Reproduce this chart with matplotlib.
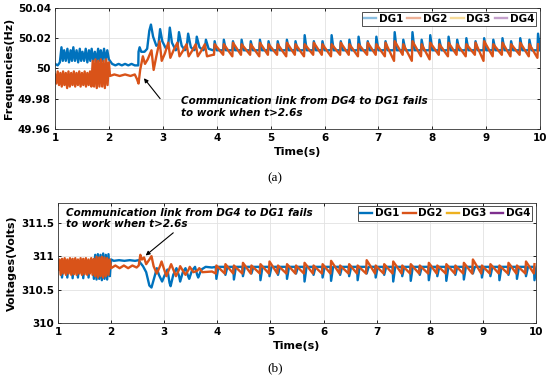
import matplotlib
matplotlib.use("Agg")
import matplotlib.pyplot as plt
from matplotlib.lines import Line2D

plt.rcParams["font.family"] = ["DejaVu Sans"]
plt.rcParams["font.weight"] = "bold"

series_names = ["DG1", "DG2", "DG3", "DG4"]
series_colors = ["#0072BD", "#D95319", "#EDB120", "#7E2F8E"]

# ---- panel (a): frequencies, transient part (t, Hz) ----
fa_dg1_early = [
    (1.00, 50.003), (1.05, 50.002), (1.09, 50.004),
    (1.12, 50.014), (1.145, 50.005), (1.17, 50.012), (1.20, 50.005), (1.23, 50.013),
    (1.26, 50.004), (1.29, 50.012), (1.315, 50.005), (1.34, 50.014), (1.37, 50.005),
    (1.40, 50.012), (1.43, 50.004), (1.46, 50.013), (1.485, 50.005), (1.51, 50.011),
    (1.54, 50.005), (1.57, 50.013), (1.60, 50.004), (1.63, 50.012), (1.655, 50.005),
    (1.68, 50.013), (1.71, 50.005), (1.74, 50.011), (1.77, 50.004), (1.80, 50.013),
    (1.825, 50.005), (1.85, 50.012), (1.88, 50.005), (1.91, 50.013), (1.94, 50.005),
    (1.97, 50.012), (2.00, 50.006),
    (2.06, 50.003), (2.12, 50.002), (2.18, 50.003), (2.24, 50.002), (2.30, 50.003),
    (2.36, 50.002), (2.42, 50.003), (2.48, 50.002), (2.545, 50.002),
    (2.55, 50.011), (2.57, 50.014), (2.60, 50.011), (2.66, 50.011), (2.71, 50.013),
    (2.75, 50.025), (2.78, 50.029), (2.82, 50.021), (2.88, 50.015), (2.92, 50.016),
    (2.95, 50.026), (2.99, 50.018), (3.06, 50.013), (3.10, 50.015), (3.13, 50.027),
    (3.17, 50.017), (3.24, 50.012), (3.27, 50.013), (3.30, 50.024), (3.35, 50.015),
    (3.41, 50.012), (3.44, 50.013), (3.47, 50.023), (3.52, 50.014), (3.58, 50.012),
    (3.61, 50.013), (3.63, 50.021), (3.68, 50.014), (3.75, 50.012), (3.78, 50.013),
    (3.80, 50.019), (3.85, 50.013), (3.93, 50.012),
]
fa_dg2_early = [
    (1.000, 49.996), (1.025, 49.990), (1.050, 49.998), (1.075, 49.989), (1.100, 49.997),
    (1.125, 49.988), (1.150, 49.998), (1.175, 49.989), (1.200, 49.997), (1.225, 49.987),
    (1.250, 49.998), (1.275, 49.988), (1.300, 49.997), (1.325, 49.989), (1.350, 49.998),
    (1.375, 49.988), (1.400, 49.997), (1.425, 49.989), (1.450, 49.998), (1.475, 49.988),
    (1.500, 49.997), (1.525, 49.989), (1.550, 49.998), (1.575, 49.988), (1.600, 49.997),
    (1.625, 49.989), (1.650, 49.998), (1.675, 49.988), (1.700, 50.005), (1.725, 49.988),
    (1.750, 50.006), (1.775, 49.987), (1.800, 50.005), (1.825, 49.988), (1.850, 50.006),
    (1.875, 49.988), (1.900, 50.005), (1.925, 49.987), (1.950, 50.006), (1.975, 49.989),
    (2.000, 50.004), (2.02, 49.995), (2.10, 49.996), (2.20, 49.995), (2.30, 49.996),
    (2.40, 49.995), (2.48, 49.996), (2.52, 49.993), (2.55, 49.990), (2.58, 49.999),
    (2.63, 50.008), (2.67, 50.003), (2.72, 50.006), (2.79, 50.012), (2.83, 49.999),
    (2.88, 50.008), (2.94, 50.018), (2.98, 50.005), (3.04, 50.010), (3.10, 50.017),
    (3.14, 50.007), (3.20, 50.012), (3.27, 50.017), (3.31, 50.008), (3.38, 50.012),
    (3.44, 50.016), (3.48, 50.008), (3.55, 50.012), (3.61, 50.016), (3.65, 50.008),
    (3.72, 50.012), (3.78, 50.016), (3.82, 50.008), (3.93, 50.009),
]

# ---- panel (a): steady part, spike times and spike values ----
ta_spk = [3.95, 4.12, 4.29, 4.45, 4.62, 4.79, 4.95, 5.12, 5.29, 5.45, 5.62, 5.79,
          5.95, 6.12, 6.29, 6.45, 6.62, 6.79, 6.95, 7.12, 7.29, 7.45, 7.62, 7.79,
          7.95, 8.12, 8.29, 8.45, 8.62, 8.79, 8.95, 9.12, 9.29, 9.45, 9.62, 9.79, 9.95]
fa_dg1_base = 50.012
fa_dg1_peak = [50.018, 50.019, 50.018, 50.019, 50.018, 50.019, 50.018, 50.018, 50.019,
               50.018, 50.022, 50.018, 50.018, 50.022, 50.018, 50.019, 50.021, 50.018,
               50.021, 50.018, 50.024, 50.019, 50.024, 50.019, 50.022, 50.019, 50.021,
               50.019, 50.020, 50.018, 50.020, 50.019, 50.020, 50.018, 50.020, 50.019,
               50.023]
fa_dg2_trough = [50.009, 50.009, 50.008, 50.009, 50.009, 50.008, 50.009, 50.009, 50.008,
                 50.009, 50.008, 50.009, 50.009, 50.008, 50.009, 50.009, 50.008, 50.009,
                 50.009, 50.008, 50.005, 50.009, 50.005, 50.008, 50.006, 50.009, 50.008,
                 50.009, 50.008, 50.009, 50.005, 50.008, 50.009, 50.008, 50.009, 50.008,
                 50.007]
fa_dg2_peak = [50.016, 50.016, 50.017, 50.016, 50.016, 50.017, 50.016, 50.016, 50.017,
               50.016, 50.016, 50.017, 50.016, 50.016, 50.017, 50.016, 50.016, 50.017,
               50.016, 50.017, 50.018, 50.016, 50.018, 50.016, 50.017, 50.016, 50.017,
               50.016, 50.016, 50.017, 50.018, 50.016, 50.017, 50.016, 50.017, 50.016,
               50.016]

# ---- panel (b): voltages, transient part (t, V) ----
vb_dg1_early = [
    (1.000, 310.93), (1.025, 310.80), (1.050, 310.92), (1.075, 310.68), (1.100, 310.90),
    (1.125, 310.78), (1.150, 310.93), (1.175, 310.68), (1.200, 310.90), (1.225, 310.79),
    (1.250, 310.94), (1.275, 310.67), (1.300, 310.91), (1.325, 310.78), (1.350, 310.93),
    (1.375, 310.68), (1.400, 310.90), (1.425, 310.78), (1.450, 310.94), (1.475, 310.67),
    (1.500, 310.91), (1.525, 310.79), (1.550, 310.93), (1.575, 310.68), (1.600, 310.90),
    (1.625, 310.78), (1.650, 310.94), (1.675, 310.66), (1.700, 311.02), (1.725, 310.65),
    (1.750, 311.03), (1.775, 310.66), (1.800, 311.02), (1.825, 310.64), (1.850, 311.04),
    (1.875, 310.66), (1.900, 311.02), (1.925, 310.65), (1.950, 311.03), (1.975, 310.70),
    (2.000, 310.95), (2.05, 310.93), (2.15, 310.94), (2.25, 310.93), (2.35, 310.94),
    (2.45, 310.93), (2.52, 310.94), (2.55, 310.90), (2.60, 310.85), (2.66, 310.76),
    (2.72, 310.56), (2.76, 310.53), (2.82, 310.70), (2.86, 310.82), (2.90, 310.72),
    (2.96, 310.62), (3.00, 310.70), (3.06, 310.80), (3.10, 310.60), (3.12, 310.55),
    (3.17, 310.72), (3.23, 310.82), (3.28, 310.70), (3.30, 310.62), (3.35, 310.76),
    (3.40, 310.82), (3.45, 310.70), (3.47, 310.66), (3.52, 310.78), (3.58, 310.84),
    (3.62, 310.72), (3.64, 310.68), (3.70, 310.80), (3.78, 310.84), (3.90, 310.83),
]
vb_dg2_early = [
    (1.000, 310.80), (1.025, 310.95), (1.050, 310.72), (1.075, 310.96), (1.100, 310.74),
    (1.125, 310.97), (1.150, 310.72), (1.175, 310.95), (1.200, 310.74), (1.225, 310.97),
    (1.250, 310.72), (1.275, 310.96), (1.300, 310.73), (1.325, 310.97), (1.350, 310.72),
    (1.375, 310.95), (1.400, 310.74), (1.425, 310.97), (1.450, 310.72), (1.475, 310.96),
    (1.500, 310.73), (1.525, 310.97), (1.550, 310.72), (1.575, 310.95), (1.600, 310.74),
    (1.625, 310.97), (1.650, 310.72), (1.675, 310.96), (1.700, 310.70), (1.725, 310.99),
    (1.750, 310.68), (1.775, 310.98), (1.800, 310.70), (1.825, 310.99), (1.850, 310.68),
    (1.875, 310.98), (1.900, 310.70), (1.925, 310.97), (1.950, 310.72), (1.975, 310.95),
    (2.00, 310.82), (2.08, 310.86), (2.16, 310.82), (2.24, 310.86), (2.32, 310.82),
    (2.40, 310.86), (2.48, 310.83), (2.52, 310.86), (2.55, 311.02), (2.58, 310.95),
    (2.62, 310.98), (2.66, 310.88), (2.72, 310.95), (2.76, 311.00), (2.80, 310.85),
    (2.86, 310.74), (2.92, 310.85), (2.95, 310.92), (3.00, 310.80), (3.04, 310.70),
    (3.10, 310.82), (3.13, 310.88), (3.18, 310.78), (3.22, 310.70), (3.28, 310.80),
    (3.30, 310.85), (3.36, 310.77), (3.40, 310.72), (3.46, 310.80), (3.48, 310.84),
    (3.55, 310.76), (3.62, 310.78), (3.66, 310.82), (3.72, 310.76), (3.90, 310.77),
]

# ---- panel (b): steady part ----
tb_spk = [3.97, 4.14, 4.30, 4.47, 4.63, 4.80, 4.97, 5.13, 5.30, 5.47, 5.63, 5.80,
          5.97, 6.13, 6.30, 6.47, 6.63, 6.80, 6.97, 7.13, 7.30, 7.47, 7.63, 7.80,
          7.97, 8.13, 8.30, 8.47, 8.63, 8.80, 8.97, 9.13, 9.30, 9.47, 9.63, 9.80, 9.96]
vb_dg1_base = 310.84
vb_dg1_dip = [310.66, 310.72, 310.65, 310.70, 310.74, 310.64, 310.70, 310.72, 310.66,
              310.74, 310.62, 310.72, 310.68, 310.63, 310.72, 310.70, 310.64, 310.74,
              310.68, 310.72, 310.62, 310.70, 310.63, 310.72, 310.64, 310.70, 310.63,
              310.72, 310.65, 310.74, 310.68, 310.70, 310.64, 310.72, 310.66, 310.70,
              310.64]
vb_dg2_trough = 310.74
vb_dg2_peak = [310.86, 310.88, 310.86, 310.90, 310.86, 310.88, 310.92, 310.86, 310.88,
               310.86, 310.90, 310.86, 310.88, 310.93, 310.86, 310.88, 310.86, 310.94,
               310.86, 310.88, 310.92, 310.86, 310.88, 310.86, 310.90, 310.86, 310.88,
               310.86, 310.90, 310.95, 310.86, 310.88, 310.86, 310.90, 310.86, 310.92,
               310.88]

note_text = "Communication link from DG4 to DG1 fails\nto work when t>2.6s"

LW = 1.7
TICK_FS = 7.5
LABEL_FS = 8


def spikes(times, base, peaks, rise=0.012, fall=0.05):
    t, v = [], []
    for ti, p in zip(times, peaks):
        t += [ti, ti + rise, ti + fall]
        v += [base, p, base]
    return t, v


def sawtooth(times, troughs, peaks, rise=0.012):
    t, v = [], []
    for ti, lo, hi in zip(times, troughs, peaks):
        t += [ti, ti + rise]
        v += [lo, hi]
    return t, v


def style_axes(ax):
    ax.set_xlim(1, 10)
    ax.set_xticks(range(1, 11))
    ax.grid(True, color="#e2e2e2", lw=0.6)
    ax.set_axisbelow(True)
    ax.tick_params(direction="in", length=2.5, width=0.6, labelsize=TICK_FS,
                   top=True, right=True, pad=3)
    for s in ax.spines.values():
        s.set_color("#333333")
        s.set_linewidth(0.6)
    for lab in ax.get_xticklabels() + ax.get_yticklabels():
        lab.set_fontweight("bold")
    ax.set_xlabel("Time(s)", fontsize=LABEL_FS, fontweight="bold", labelpad=3)


def add_legend(ax, alpha):
    handles = [Line2D([], [], color=c, lw=LW, alpha=alpha) for c in series_colors]
    leg = ax.legend(handles, series_names, loc="upper right", ncol=4, fontsize=TICK_FS,
                    handlelength=1.2, handletextpad=0.25, columnspacing=0.4,
                    borderpad=0.2, borderaxespad=0.35, fancybox=False, framealpha=1,
                    edgecolor="#333333")
    leg.get_frame().set_linewidth(0.6)
    for txt in leg.get_texts():
        txt.set_fontweight("bold")


arrow = dict(arrowstyle="-|>", color="black", lw=0.8, mutation_scale=6,
             shrinkA=0, shrinkB=0)

fig = plt.figure(figsize=(5.5, 3.79), dpi=100)

# ---------- (a) ----------
ax1 = fig.add_axes([0.1, 0.660, 0.882, 0.319])
t1, v1 = zip(*fa_dg1_early)
s_t, s_v = spikes(ta_spk, fa_dg1_base, fa_dg1_peak)
ax1.plot(list(t1) + s_t, list(v1) + s_v, color=series_colors[0], lw=LW)
t2, v2 = zip(*fa_dg2_early)
s_t, s_v = sawtooth(ta_spk, fa_dg2_trough, fa_dg2_peak)
ax1.plot(list(t2) + s_t, list(v2) + s_v, color=series_colors[1], lw=LW)
ax1.set_ylim(49.96, 50.04)
ax1.set_yticks([49.96, 49.98, 50.0, 50.02, 50.04])
ax1.set_yticklabels(["49.96", "49.98", "50", "50.02", "50.04"])
ax1.set_ylabel("Frequencies(Hz)", fontsize=LABEL_FS, fontweight="bold", labelpad=3)
style_axes(ax1)
add_legend(ax1, 0.45)
ax1.text(3.34, 49.9745, note_text, fontsize=TICK_FS, fontweight="bold",
         fontstyle="italic", va="center", ha="left", linespacing=1.15)
ax1.annotate("", xy=(2.65, 49.9935), xytext=(2.95, 49.980), arrowprops=arrow)
fig.text(0.5, 1 - 178 / 379, "(a)", ha="center", va="center",
         family="Liberation Serif", fontsize=9.5, fontweight="normal")

# ---------- (b) ----------
ax2 = fig.add_axes([0.1055, 0.148, 0.869, 0.317])
t1, v1 = zip(*vb_dg1_early)
s_t, s_v = spikes(tb_spk, vb_dg1_base, vb_dg1_dip)
ax2.plot(list(t1) + s_t, list(v1) + s_v, color=series_colors[0], lw=LW)
t2, v2 = zip(*vb_dg2_early)
s_t, s_v = sawtooth(tb_spk, [vb_dg2_trough] * len(tb_spk), vb_dg2_peak)
ax2.plot(list(t2) + s_t, list(v2) + s_v, color=series_colors[1], lw=LW)
ax2.set_ylim(310, 311.8)
ax2.set_yticks([310, 310.5, 311, 311.5])
ax2.set_yticklabels(["310", "310.5", "311", "311.5"])
ax2.set_ylabel("Voltages(Volts)", fontsize=LABEL_FS, fontweight="bold", labelpad=3)
style_axes(ax2)
add_legend(ax2, 1.0)
ax2.text(1.15, 311.57, note_text, fontsize=TICK_FS, fontweight="bold",
         fontstyle="italic", va="center", ha="left", linespacing=1.15)
ax2.annotate("", xy=(2.65, 311.01), xytext=(3.17, 311.35), arrowprops=arrow)
fig.text(0.5, 1 - 368 / 379, "(b)", ha="center", va="center",
         family="Liberation Serif", fontsize=9.5, fontweight="normal")

fig.savefig("out.png", dpi=100)
